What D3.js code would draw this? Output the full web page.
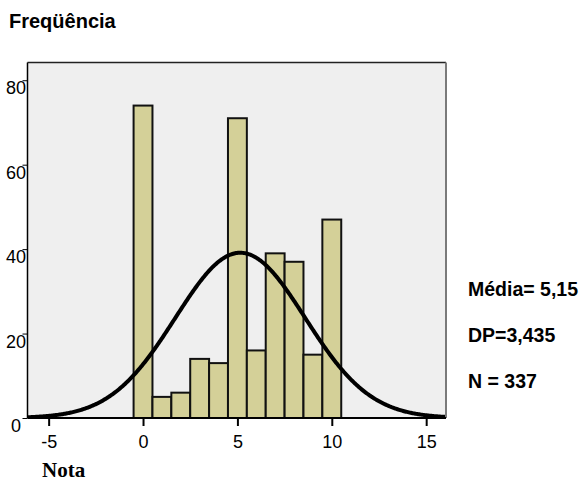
<!DOCTYPE html>
<html>
<head>
<meta charset="utf-8">
<script src="https://cdn.jsdelivr.net/npm/d3@7"></script>
<style>
  body { margin: 0; background: #fff; }
  svg { display: block; }
</style>
</head>
<body>
<svg id="chart"></svg>
<script>
// histogram data: Nota (0..10) and counts
const notas = [0, 1, 2, 3, 4, 5, 6, 7, 8, 9, 10];
const freqs = [74, 5, 6, 14, 13, 71, 16, 39, 37, 15, 47];
const xTicks = [-5, 0, 5, 10, 15];
const yTicks = [0, 20, 40, 60, 80];
const media = 5.15;
const dp = 3.435;
const n = 337;
const statLabels = ["Média= 5,15", "DP=3,435", "N = 337"];

const width = 586, height = 482;
const plot = { left: 27.5, right: 446, top: 62.5, bottom: 418 };

const svg = d3.select("#chart")
    .attr("width", width)
    .attr("height", height);

const x = d3.scaleLinear()
    .domain([-6.12, 16.05])
    .range([plot.left, plot.right]);

const y = d3.scaleLinear()
    .domain([0, 84.2])
    .range([plot.bottom, plot.top]);

// plot background
svg.append("rect")
    .attr("x", plot.left)
    .attr("y", plot.top)
    .attr("width", plot.right - plot.left)
    .attr("height", plot.bottom - plot.top)
    .attr("fill", "#efefef");

// bars
svg.append("g")
    .selectAll("rect")
    .data(notas.map((d, i) => ({ nota: d, freq: freqs[i] })))
    .enter()
    .append("rect")
    .attr("x", (d) => x(d.nota - 0.5))
    .attr("y", (d) => y(d.freq))
    .attr("width", (d) => x(d.nota + 0.5) - x(d.nota - 0.5))
    .attr("height", (d) => y(0) - y(d.freq))
    .attr("fill", "#d4d098")
    .attr("stroke", "#111")
    .attr("stroke-width", 2);

// normal curve, scaled to counts (bin width 1)
const pdf = (v) => Math.exp(-0.5 * ((v - media) / dp) ** 2) / (dp * Math.sqrt(2 * Math.PI));
const curvePts = d3.range(-6.12, 16.06, 0.05).map((v) => [v, n * pdf(v)]);

svg.append("defs").append("clipPath")
    .attr("id", "clip")
    .append("rect")
    .attr("x", plot.left)
    .attr("y", plot.top)
    .attr("width", plot.right - plot.left)
    .attr("height", plot.bottom - plot.top);

svg.append("path")
    .datum(curvePts)
    .attr("clip-path", "url(#clip)")
    .attr("fill", "none")
    .attr("stroke", "#000")
    .attr("stroke-width", 4)
    .attr("d", d3.line().x((d) => x(d[0])).y((d) => y(d[1])));

// frame
svg.append("line")
    .attr("x1", plot.left).attr("x2", plot.right)
    .attr("y1", plot.top).attr("y2", plot.top)
    .attr("stroke", "#222").attr("stroke-width", 1.5);
svg.append("line")
    .attr("x1", plot.right).attr("x2", plot.right)
    .attr("y1", plot.top).attr("y2", plot.bottom)
    .attr("stroke", "#7a7a7a").attr("stroke-width", 2);
svg.append("line")
    .attr("x1", plot.left).attr("x2", plot.left)
    .attr("y1", plot.top).attr("y2", plot.bottom)
    .attr("stroke", "#000").attr("stroke-width", 1.5);
svg.append("line")
    .attr("x1", plot.left).attr("x2", plot.right)
    .attr("y1", plot.bottom).attr("y2", plot.bottom)
    .attr("stroke", "#000").attr("stroke-width", 2);

// x axis
const xAxis = svg.append("g")
    .attr("transform", `translate(0,${plot.bottom})`)
    .call(d3.axisBottom(x).tickValues(xTicks).tickSize(8).tickFormat((d) => String(d)));
xAxis.select(".domain").remove();
xAxis.selectAll("line").attr("stroke", "#000").attr("stroke-width", 2);
xAxis.selectAll("text")
    .attr("y", 30)
    .attr("dy", 0)
    .attr("fill", "#000")
    .style("font", "18px 'Liberation Sans', Arial, sans-serif");

// y axis
const yAxis = svg.append("g")
    .attr("transform", `translate(${plot.left},0)`)
    .call(d3.axisLeft(y).tickValues(yTicks).tickSize(5));
yAxis.select(".domain").remove();
yAxis.selectAll("line").attr("stroke", "#000").attr("stroke-width", 1);
yAxis.selectAll("text")
    .attr("x", -11.5)
    .attr("dy", 13.5)
    .attr("text-anchor", "middle")
    .attr("fill", "#000")
    .style("font", "18px 'Liberation Sans', Arial, sans-serif");

// titles
svg.append("text")
    .attr("x", 9)
    .attr("y", 27.5)
    .style("font", "bold 20px 'Liberation Sans', Arial, sans-serif")
    .text("Freqüência");

svg.append("text")
    .attr("x", 42)
    .attr("y", 477)
    .style("font", "bold 21px 'Liberation Serif', 'Times New Roman', serif")
    .text("Nota");

// stats
svg.append("g")
    .selectAll("text")
    .data(statLabels)
    .enter()
    .append("text")
    .attr("x", 468)
    .attr("y", (d, i) => 295.5 + i * 46)
    .style("font", "bold 19.5px 'Liberation Sans', Arial, sans-serif")
    .text((d) => d);
</script>
</body>
</html>
